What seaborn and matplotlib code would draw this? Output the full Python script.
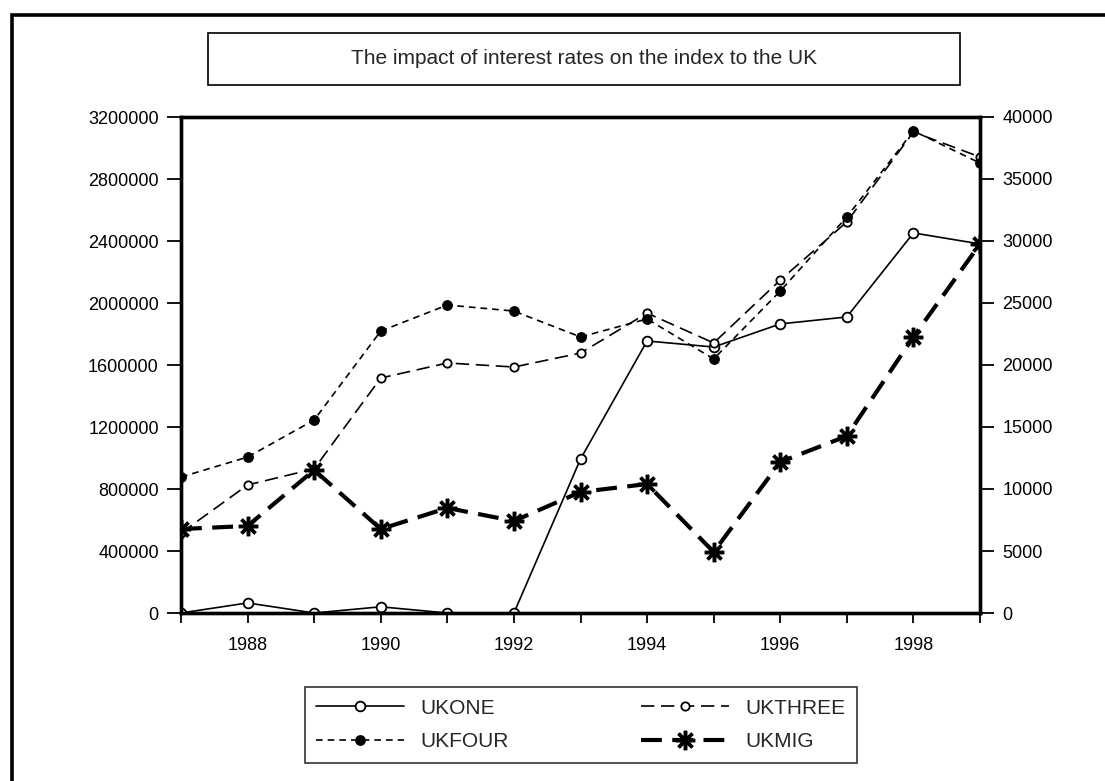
import matplotlib
matplotlib.use("Agg")
import matplotlib.pyplot as plt
import seaborn as sns
import numpy as np
from matplotlib.patches import Rectangle
from matplotlib.ticker import FixedLocator, NullFormatter

years = [1987, 1988, 1989, 1990, 1991, 1992, 1993, 1994, 1995, 1996, 1997, 1998, 1999]
ukone = [0, 65000, 0, 40000, 0, 0, 993000, 1755000, 1716000, 1865000, 1910000, 2452000, 2381000]
ukthree = [516000, 826000, 930000, 1516000, 1613000, 1587000, 1677000, 1935000, 1742000, 2148000, 2523000, 3103000, 2942000]
ukfour = [877000, 1006000, 1245000, 1819000, 1987000, 1948000, 1781000, 1897000, 1639000, 2077000, 2555000, 3110000, 2903000]
ukmig = [6770, 7020, 11530, 6770, 8470, 7420, 9760, 10400, 4920, 12180, 14270, 22260, 29760]

left_ticks = [0, 400000, 800000, 1200000, 1600000, 2000000, 2400000, 2800000, 3200000]
right_ticks = [0, 5000, 10000, 15000, 20000, 25000, 30000, 35000, 40000]
xtick_labels = [1988, 1990, 1992, 1994, 1996, 1998]
title = "The impact of interest rates on the index to the UK"

sns.set_style("white")
plt.rcParams['font.family'] = ['Liberation Sans', 'DejaVu Sans']
FS = 13

fig = plt.figure(figsize=(11.05, 7.81), dpi=100)
W, H = 1105, 781
ax = fig.add_axes([181 / W, 1 - 613 / H, (980 - 181) / W, (613 - 117) / H])
ax2 = ax.twinx()

sns.lineplot(x=years, y=ukone, ax=ax, color="black", lw=1.2, marker="o", markersize=7,
             markerfacecolor="white", markeredgecolor="black", markeredgewidth=1.3,
             linestyle="-", label="UKONE")
sns.lineplot(x=years, y=ukthree, ax=ax, color="black", lw=1.2, marker="o", markersize=6,
             markerfacecolor="white", markeredgecolor="black", markeredgewidth=1.3,
             linestyle=(0, (8, 4)), label="UKTHREE")
sns.lineplot(x=years, y=ukfour, ax=ax, color="black", lw=1.2, marker="o", markersize=7,
             markerfacecolor="black", markeredgecolor="black",
             linestyle=(0, (4, 3)), label="UKFOUR")
sns.lineplot(x=years, y=ukmig, ax=ax2, color="black", lw=3, marker=(8, 2, 0), markersize=14,
             markeredgewidth=2.5, markeredgecolor="black",
             linestyle=(0, (5, 2.5)), label="UKMIG")

for a in (ax, ax2):
    lg = a.get_legend()
    if lg is not None:
        lg.remove()

ax.set_xlim(1987, 1999)
ax.set_ylim(0, 3200000)
ax2.set_ylim(0, 40000)
ax.set_yticks(left_ticks)
ax.set_yticklabels([str(v) for v in left_ticks], fontsize=FS)
ax2.set_yticks(right_ticks)
ax2.set_yticklabels([str(v) for v in right_ticks], fontsize=FS)
ax.set_xticks(xtick_labels)
ax.set_xticklabels([str(v) for v in xtick_labels], fontsize=FS)
ax.xaxis.set_minor_locator(FixedLocator([y for y in years if y not in xtick_labels]))
ax.xaxis.set_minor_formatter(NullFormatter())

ax.tick_params(axis="y", which="major", direction="out", length=10, width=1.3, left=True, pad=6, colors="black")
ax2.tick_params(axis="y", which="major", direction="out", length=10, width=1.3, right=True, pad=6, colors="black")
ax.tick_params(axis="x", which="both", direction="out", length=7, width=1.3, bottom=True, pad=10, colors="black")
ax.grid(False)
ax2.grid(False)

for a in (ax, ax2):
    for s in a.spines.values():
        s.set_linewidth(2.4)
        s.set_color("black")
        s.set_visible(True)

# outer frame
fig.patches.append(Rectangle((12 / W, -0.2), 1.5, 1 - 14.5 / H + 0.2, transform=fig.transFigure,
                             fill=False, lw=2.6, edgecolor="black"))
# title box
fig.patches.append(Rectangle((208 / W, 1 - 85 / H), (960 - 208) / W, (85 - 33) / H,
                             transform=fig.transFigure, fill=False, lw=1.2, edgecolor="black"))
fig.text((208 + 960) / 2 / W, 1 - 59 / H, title, ha="center", va="center", fontsize=15)

handles = ax.get_lines()[:3] + ax2.get_lines()[:1]
h_order = [handles[0], handles[2], handles[1], handles[3]]
l_order = ["UKONE", "UKFOUR", "UKTHREE", "UKMIG"]
leg = fig.legend(h_order, l_order, ncol=2, loc="center", mode="expand",
                 bbox_to_anchor=(305 / W, 1 - 765 / H, (857 - 305) / W, (765 - 685) / H),
                 fontsize=15, frameon=True, fancybox=False, edgecolor="black",
                 handlelength=4.2, columnspacing=3, handletextpad=0.8, labelspacing=0.7,
                 borderpad=0.55, borderaxespad=0)
leg.get_frame().set_linewidth(1.2)

fig.savefig("out.png", dpi=100, facecolor="white")
